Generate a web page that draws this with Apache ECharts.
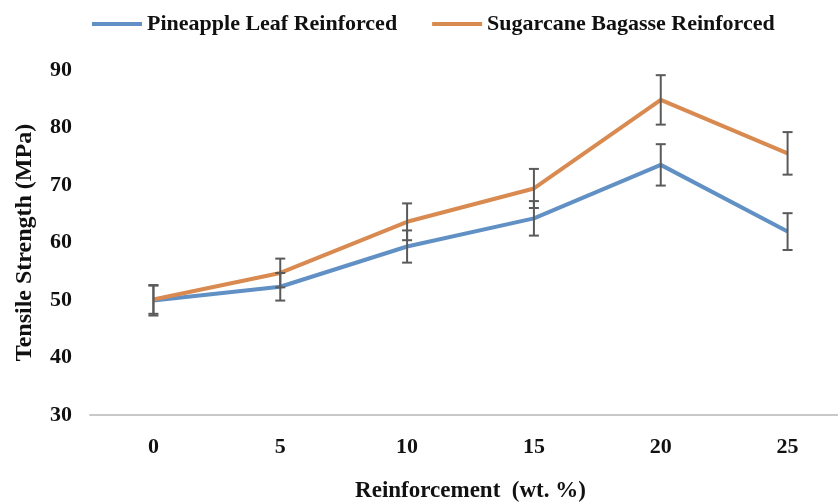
<!DOCTYPE html>
<html>
<head>
<meta charset="utf-8">
<script src="https://cdn.jsdelivr.net/npm/echarts@6/dist/echarts.min.js"></script>
<style>
  html, body { margin: 0; padding: 0; background: #fff; overflow: hidden; }
  /* the original figure is cut off on the right, so the chart is a bit wider than the window */
  #chart { width: 851px; height: 502px; }
</style>
</head>
<body>
<div id="chart"></div>
<script>
const categories = ['0', '5', '10', '15', '20', '25'];
const pineapple = [49.9, 52.3, 59.3, 64.2, 73.5, 61.9];
const pineappleErr = [2.6, 2.4, 2.8, 3.0, 3.6, 3.2];
const sugarcane = [50.1, 54.7, 63.6, 69.4, 84.8, 75.5];
const sugarcaneErr = [2.5, 2.5, 3.2, 3.4, 4.3, 3.7];
const yTicks = { min: 30, max: 90, step: 10 };

const serif = 'Liberation Serif';
const blue = '#6190c5';
const orange = '#d88a50';

// error bars drawn through the axis scale
const errBars = (vals, errs) => vals.map((v, i) => [i, v - errs[i], v + errs[i]]);
const renderErr = function (params, api) {
  const lo = api.coord([api.value(0), api.value(1)]);
  const hi = api.coord([api.value(0), api.value(2)]);
  const w = 5;
  const style = { stroke: '#5a5a5a', lineWidth: 2 };
  return {
    type: 'group',
    children: [
      { type: 'line', shape: { x1: lo[0], y1: lo[1], x2: hi[0], y2: hi[1] }, style: style },
      { type: 'line', shape: { x1: lo[0] - w, y1: lo[1], x2: lo[0] + w, y2: lo[1] }, style: style },
      { type: 'line', shape: { x1: hi[0] - w, y1: hi[1], x2: hi[0] + w, y2: hi[1] }, style: style }
    ]
  };
};

const chart = echarts.init(document.getElementById('chart'));
chart.setOption({
  backgroundColor: '#fff',
  animation: false,
  legend: {
    top: 8,
    left: 87,
    icon: 'rect',
    itemWidth: 50,
    itemHeight: 4,
    itemGap: 35,
    data: ['Pineapple Leaf Reinforced', 'Sugarcane Bagasse Reinforced'],
    textStyle: { fontFamily: serif, fontWeight: 'bold', fontSize: 22, color: '#111' }
  },
  grid: { left: 90, right: 0, top: 70, bottom: 87, outerBoundsMode: 'none' },
  xAxis: {
    type: 'category',
    data: categories,
    boundaryGap: true,
    name: 'Reinforcement  (wt. %)',
    nameLocation: 'middle',
    nameGap: 65,
    nameTextStyle: { fontFamily: serif, fontWeight: 'bold', fontSize: 23, color: '#111' },
    axisLine: { lineStyle: { color: '#c8c8c8', width: 2 } },
    axisTick: { show: false },
    axisLabel: { margin: 21, fontFamily: serif, fontWeight: 'bold', fontSize: 22, color: '#111' }
  },
  yAxis: {
    type: 'value',
    min: yTicks.min,
    max: yTicks.max,
    interval: yTicks.step,
    name: 'Tensile Strength (MPa)',
    nameLocation: 'middle',
    nameGap: 53,
    nameTextStyle: { fontFamily: serif, fontWeight: 'bold', fontSize: 24, color: '#111' },
    axisLine: { show: false },
    axisTick: { show: false },
    splitLine: { show: false },
    axisLabel: { margin: 18, fontFamily: serif, fontWeight: 'bold', fontSize: 22, color: '#111' }
  },
  series: [
    {
      name: 'Pineapple Leaf Reinforced',
      type: 'line',
      data: pineapple,
      showSymbol: false,
      color: blue,
      lineStyle: { width: 4, color: blue }
    },
    {
      name: 'Sugarcane Bagasse Reinforced',
      type: 'line',
      data: sugarcane,
      showSymbol: false,
      color: orange,
      lineStyle: { width: 4, color: orange }
    },
    {
      type: 'custom',
      renderItem: renderErr,
      data: errBars(pineapple, pineappleErr),
      encode: { x: 0, y: [1, 2] },
      z: 5
    },
    {
      type: 'custom',
      renderItem: renderErr,
      data: errBars(sugarcane, sugarcaneErr),
      encode: { x: 0, y: [1, 2] },
      z: 5
    }
  ]
});
</script>
</body>
</html>
